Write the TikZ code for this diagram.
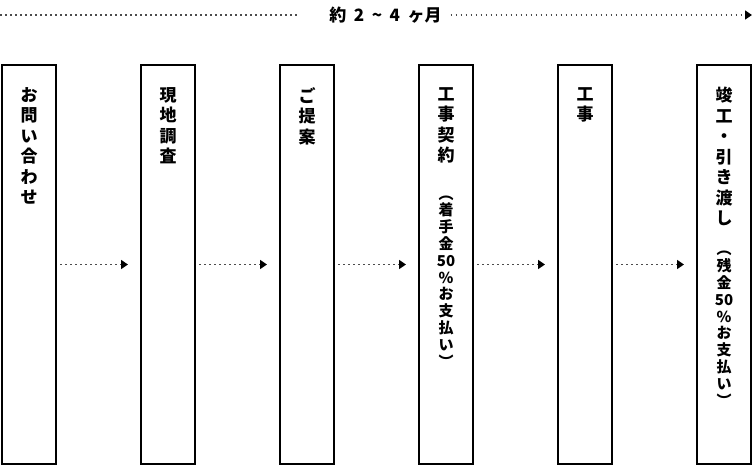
\documentclass[tikz,border=0pt]{standalone}
\usepackage{fontspec}
\usepackage{tikz}
\usetikzlibrary{positioning,arrows.meta}
\newfontfamily\jpfont{Noto Sans CJK JP}

\tikzset{
  stepbox/.style={draw, line width=2pt, minimum width=54pt, minimum height=399pt, inner sep=0pt},
  tate/.style={align=center, inner sep=0pt, anchor=north,
    font={\jpfont\bfseries\fontsize{17pt}{20.5pt}\selectfont}},
  tatesmall/.style={align=center, inner sep=0pt, anchor=north,
    font={\jpfont\bfseries\fontsize{15pt}{16.8pt}\selectfont}},
  dotline/.style={draw=black!70, line width=1.6pt, dash pattern=on 1.6pt off 3.4pt},
  flow/.style={dotline, -{Triangle[length=7pt, width=9pt, black]}},
}

\begin{document}
\begin{tikzpicture}[x=1pt, y=-1pt]
        \useasboundingbox (0, 0) rectangle (752, 466);

        % period
        \node[inner sep=0pt, font={\jpfont\bfseries\fontsize{17pt}{17pt}\selectfont}] (period) at (385.5, 15)
            {約\hspace{7.5pt}2\hspace{7.5pt}\textasciitilde\hspace{7.5pt}4\hspace{7.5pt}ヶ月};
        \coordinate (startL) at (0, 15);
        \coordinate (endR) at (752, 15);
        \draw[dotline] (startL) -- ([xshift=-32pt]period.west);
        \draw[flow] ([xshift=9pt]period.east) -- (endR);

        % steps
        \node[stepbox] (b1) at (29, 264.5) {};
        \node[stepbox] (b2) at (168, 264.5) {};
        \node[stepbox] (b3) at (307, 264.5) {};
        \node[stepbox] (b4) at (446, 264.5) {};
        \node[stepbox] (b5) at (585, 264.5) {};
        \node[stepbox] (b6) at (724, 264.5) {};

        \node[tate, below=23pt of b1.north] (t1) {お\\問\\い\\合\\わ\\せ};
        \node[tate, below=23pt of b2.north] (t2) {現\\地\\調\\査};
        \node[tate, below=23pt of b3.north] (t3) {ご\\提\\案};
        \node[tate, below=23pt of b4.north] (t4) {工\\事\\契\\約};
        \node[tatesmall, below=32pt of t4.south] (s4) {︵\\着\\手\\金\\50\\\%\\お\\支\\払\\い\\︶};
        \node[tate, below=23pt of b5.north] (t5) {工\\事};
        \node[tate, below=23pt of b6.north] (t6) {竣\\工\\・\\引\\き\\渡\\し};
        \node[tatesmall, below=25pt of t6.south] (s6) {︵\\残\\金\\50\\\%\\お\\支\\払\\い\\︶};

        % flow
        \draw[flow] ([xshift=3pt]b1.east) -- ([xshift=-12pt]b2.west);
        \draw[flow] ([xshift=3pt]b2.east) -- ([xshift=-12pt]b3.west);
        \draw[flow] ([xshift=3pt]b3.east) -- ([xshift=-12pt]b4.west);
        \draw[flow] ([xshift=3pt]b4.east) -- ([xshift=-12pt]b5.west);
        \draw[flow] ([xshift=3pt]b5.east) -- ([xshift=-12pt]b6.west);
\end{tikzpicture}
\end{document}
